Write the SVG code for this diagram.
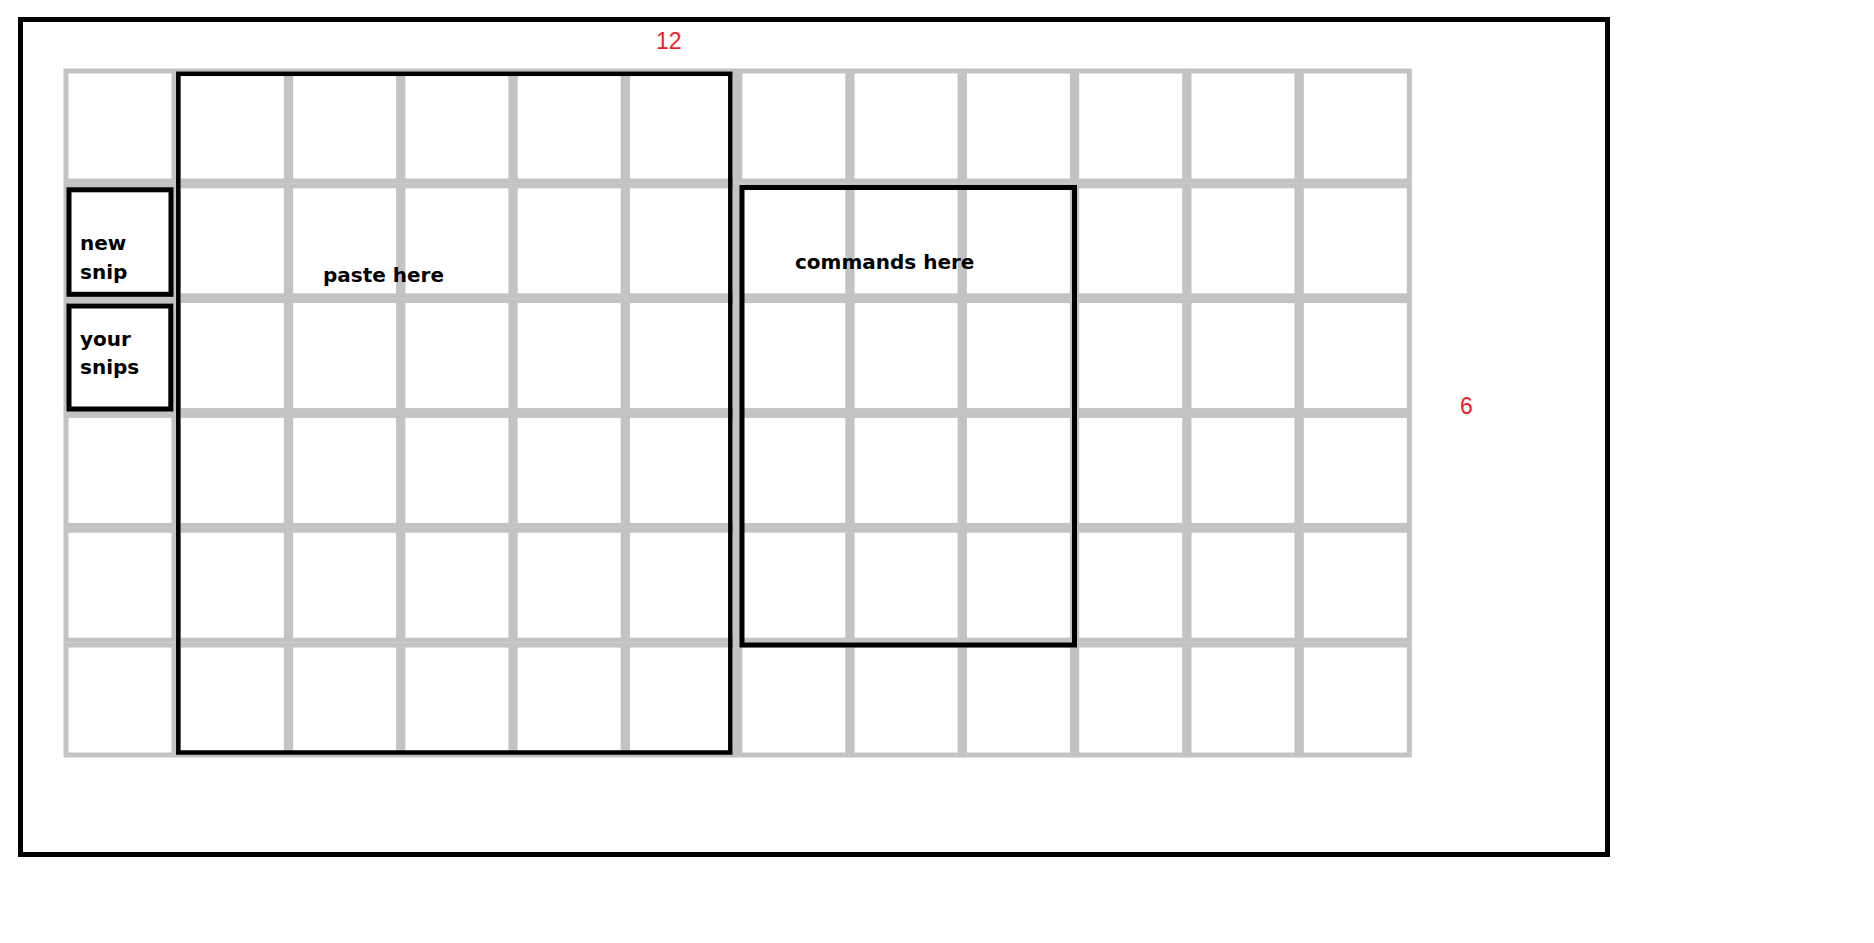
<svg xmlns="http://www.w3.org/2000/svg" width="1874" height="943" viewBox="0 0 1874 943">
<style>
.cell{fill:none;stroke:#c3c3c3;stroke-width:5}
.box{fill:none;stroke:#000;stroke-width:5}
.lbl{font-family:"DejaVu Sans",sans-serif;font-weight:bold;font-size:20px;fill:#000}
.num{font-family:"Liberation Sans",Arial,sans-serif;font-size:23px;fill:#ed1c24}
</style>
<rect x="0" y="0" width="1874" height="943" fill="#fff"/>
<g id="frame"><rect class="box" x="20.5" y="19.5" width="1587" height="835"/></g>
<g id="grid">
<defs><g id="row">
<rect class="cell" x="66" y="0" width="108" height="110"/>
<rect class="cell" x="178.3" y="0" width="108" height="110"/>
<rect class="cell" x="290.6" y="0" width="108" height="110"/>
<rect class="cell" x="402.9" y="0" width="108" height="110"/>
<rect class="cell" x="515.2" y="0" width="108" height="110"/>
<rect class="cell" x="627.5" y="0" width="108" height="110"/>
<rect class="cell" x="739.8" y="0" width="108" height="110"/>
<rect class="cell" x="852.1" y="0" width="108" height="110"/>
<rect class="cell" x="964.4" y="0" width="108" height="110"/>
<rect class="cell" x="1076.7" y="0" width="108" height="110"/>
<rect class="cell" x="1189" y="0" width="108" height="110"/>
<rect class="cell" x="1301.3" y="0" width="108" height="110"/>
</g></defs>
<use href="#row" y="71"/>
<use href="#row" y="185.8"/>
<use href="#row" y="300.6"/>
<use href="#row" y="415.4"/>
<use href="#row" y="530.2"/>
<use href="#row" y="645"/>
</g>
<g id="connectors"></g>
<g id="paste-here">
<rect class="box" x="178.3" y="73.8" width="552" height="678.7" style="stroke-width:4.5"/>
<text class="lbl" x="323" y="281.5">paste here</text>
</g>
<g id="commands-here">
<rect class="box" x="742" y="187.5" width="332.5" height="457.5"/>
<text class="lbl" x="795" y="269">commands here</text>
</g>
<g id="new-snip">
<rect class="box" x="69" y="189.8" width="102" height="104.5"/>
<text class="lbl" x="80" y="250">new</text>
<text class="lbl" x="80" y="278.5">snip</text>
</g>
<g id="your-snips">
<rect class="box" x="69" y="306" width="101.8" height="103"/>
<text class="lbl" x="80" y="345.5">your</text>
<text class="lbl" x="80" y="374">snips</text>
</g>
<g id="label-12"><text class="num" x="656" y="48.5">12</text></g>
<g id="label-6"><text class="num" x="1460" y="413.5">6</text></g>
</svg>
